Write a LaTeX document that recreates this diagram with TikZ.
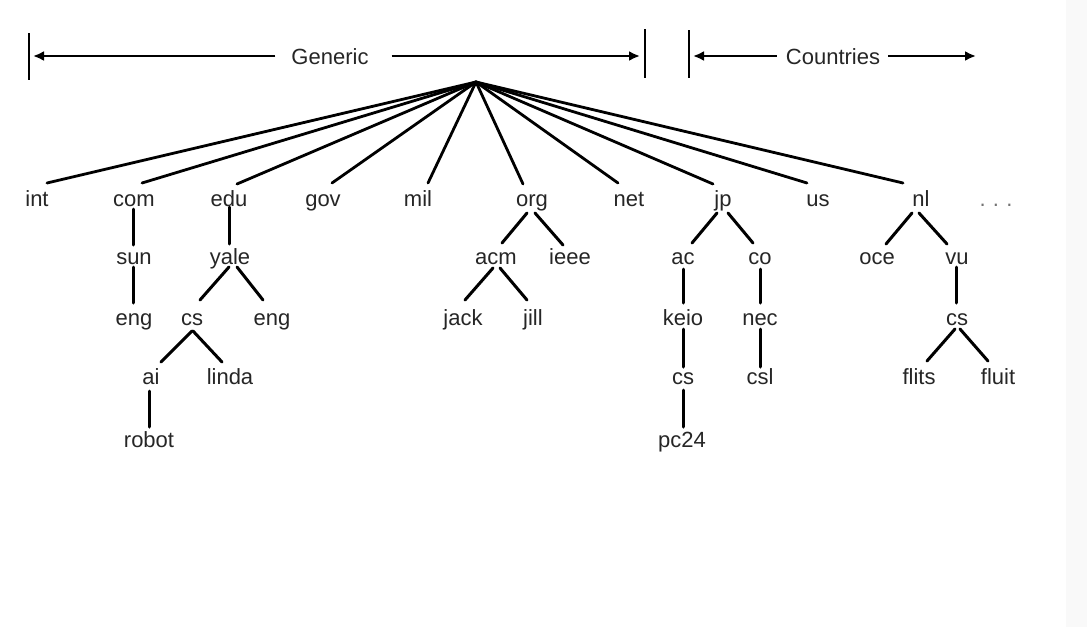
\documentclass[tikz,border=0pt]{standalone}
\usepackage{fontspec}
\setmainfont{Liberation Sans}
\usetikzlibrary{arrows.meta,calc}
\begin{document}
\begin{tikzpicture}[x=1pt,y=-1pt,
  lbl/.style={font=\fontsize{22}{26}\selectfont, text=black!85, inner sep=0pt, anchor=base},
  edge/.style={line width=3pt, line cap=round},
  redge/.style={line width=2.8pt, line cap=round},
  spanline/.style={line width=2.2pt, -{Latex[length=11pt,width=10pt]}},
  barline/.style={line width=1.2pt}]
\useasboundingbox (0,0) rectangle (1087,627);
\fill[white] (0,0) rectangle (1087,627);
\fill[black!2.5] (1066,0) rectangle (1087,627);

% top spans
\node[lbl] (gen) at (330,64) {Generic};
\node[lbl] (cty) at (833,64) {Countries};
\coordinate (gL) at (33,56);
\coordinate (gR) at (640,56);
\coordinate (cL) at (693,56);
\coordinate (cR) at (976,56);
\draw[spanline] ($(gen.west |- gL)+(-16,0)$) -- (gL);
\draw[spanline] ($(gen.east |- gR)+(23,0)$) -- (gR);
\draw[spanline] ($(cty.west |- cL)+(-9,0)$) -- (cL);
\draw[spanline] ($(cty.east |- cR)+(8,0)$) -- (cR);
\draw[barline] (29,33) -- (29,80);
\draw[barline] (645,29) -- (645,78);
\draw[barline] (689,30) -- (689,78);

% root
\coordinate (root) at (476,82);

% level 1
\node[lbl] (int) at (37,206) {int};
\node[lbl] (com) at (134,206) {com};
\node[lbl] (edu) at (229,206) {edu};
\node[lbl] (gov) at (323,206) {gov};
\node[lbl] (mil) at (418,206) {mil};
\node[lbl] (org) at (532,206) {org};
\node[lbl] (net) at (629,206) {net};
\node[lbl] (jp) at (723,206) {jp};
\node[lbl] (us) at (818,206) {us};
\node[lbl] (nl) at (921,206) {nl};
\node[lbl, text=black!55] (dots) at (996,206) {.\,\,.\,\,.};

% level 2
\node[lbl] (sun) at (134,264.5) {sun};
\node[lbl] (yale) at (230,264.5) {yale};
\node[lbl] (acm) at (496,264.5) {acm};
\node[lbl] (ieee) at (570,264.5) {ieee};
\node[lbl] (ac) at (683,264.5) {ac};
\node[lbl] (co) at (760,264.5) {co};
\node[lbl] (oce) at (877,264.5) {oce};
\node[lbl] (vu) at (957,264.5) {vu};

% level 3
\node[lbl] (engA) at (134,325) {eng};
\node[lbl] (csA) at (192,325) {cs};
\node[lbl] (engB) at (272,325) {eng};
\node[lbl] (jack) at (463,325) {jack};
\node[lbl] (jill) at (533,325) {jill};
\node[lbl] (keio) at (683,325) {keio};
\node[lbl] (nec) at (760,325) {nec};
\node[lbl] (csC) at (957,325) {cs};

% level 4
\node[lbl] (ai) at (151,384.5) {ai};
\node[lbl] (linda) at (230,384.5) {linda};
\node[lbl] (csB) at (683,384.5) {cs};
\node[lbl] (csl) at (760,384.5) {csl};
\node[lbl] (flits) at (919,384.5) {flits};
\node[lbl] (fluit) at (998,384.5) {fluit};

% level 5
\node[lbl] (robot) at (149,447) {robot};
\node[lbl] (pc) at (682,447) {pc24};

% root edges
\draw[redge] (root) -- ($(int.base)+(10,-23)$);
\draw[redge] (root) -- ($(com.base)+(8,-23)$);
\draw[redge] (root) -- ($(edu.base)+(8,-22)$);
\draw[redge] (root) -- ($(gov.base)+(9,-23)$);
\draw[redge] (root) -- ($(mil.base)+(10,-23)$);
\draw[redge] (root) -- ($(org.base)+(-9,-22)$);
\draw[redge] (root) -- ($(net.base)+(-11,-23)$);
\draw[redge] (root) -- ($(jp.base)+(-10,-22)$);
\draw[redge] (root) -- ($(us.base)+(-11,-23)$);
\draw[redge] (root) -- ($(nl.base)+(-18,-23)$);

% subtree edges
\draw[edge] ($(com.base)+(-1,3)$) -- ($(sun.base)+(-1,-19.5)$);
\draw[edge] ($(sun.base)+(-1,2.5)$) -- ($(engA.base)+(-1,-22)$);
\draw[edge] ($(edu.base)+(0,1)$) -- ($(yale.base)+(-1,-20.5)$);
\draw[edge] ($(yale.base)+(-1,2.5)$) -- ($(csA.base)+(8,-25)$);
\draw[edge] ($(yale.base)+(7,2.5)$) -- ($(engB.base)+(-9,-25)$);
\draw[edge] ($(csA.base)+(0,6)$) -- ($(ai.base)+(10,-22.5)$);
\draw[edge] ($(csA.base)+(1,6)$) -- ($(linda.base)+(-8,-22.5)$);
\draw[edge] ($(ai.base)+(-2,6.5)$) -- ($(robot.base)+(0,-20)$);

\draw[edge] ($(org.base)+(-5,7)$) -- ($(acm.base)+(6,-21.5)$);
\draw[edge] ($(org.base)+(3,7)$) -- ($(ieee.base)+(-7,-19.5)$);
\draw[edge] ($(acm.base)+(-3,3.5)$) -- ($(jack.base)+(2,-25)$);
\draw[edge] ($(acm.base)+(4,3.5)$) -- ($(jill.base)+(-6,-25)$);

\draw[edge] ($(jp.base)+(-6,7)$) -- ($(ac.base)+(9,-21.5)$);
\draw[edge] ($(jp.base)+(5,7)$) -- ($(co.base)+(-7,-21.5)$);
\draw[edge] ($(ac.base)+(0,4.5)$) -- ($(keio.base)+(0,-22)$);
\draw[edge] ($(keio.base)+(0,4)$) -- ($(csB.base)+(0,-17.5)$);
\draw[edge] ($(csB.base)+(0,5.5)$) -- ($(pc.base)+(1,-20)$);
\draw[edge] ($(co.base)+(0,4.5)$) -- ($(nec.base)+(0,-22)$);
\draw[edge] ($(nec.base)+(0,4)$) -- ($(csl.base)+(0,-17.5)$);

\draw[edge] ($(nl.base)+(-9,7)$) -- ($(oce.base)+(9,-20.5)$);
\draw[edge] ($(nl.base)+(-2,7)$) -- ($(vu.base)+(-10,-20.5)$);
\draw[edge] ($(vu.base)+(-1,2.5)$) -- ($(csC.base)+(-1,-22)$);
\draw[edge] ($(csC.base)+(-2,4)$) -- ($(flits.base)+(8,-23.5)$);
\draw[edge] ($(csC.base)+(3,4)$) -- ($(fluit.base)+(-10,-23.5)$);
\end{tikzpicture}
\end{document}
